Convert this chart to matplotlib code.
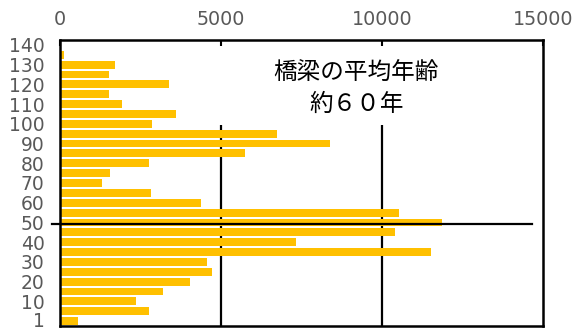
import matplotlib
matplotlib.use('Agg')
import matplotlib.pyplot as plt
import matplotlib.transforms as mtransforms
import numpy as np

plt.rcParams['font.family'] = ['Noto Sans CJK JP', 'DejaVu Sans']

# 建設後年数(5年刻み)と橋梁数
ages = [1, 5, 10, 15, 20, 25, 30, 35, 40, 45, 50, 55, 60, 65,
        70, 75, 80, 85, 90, 95, 100, 105, 110, 115, 120, 125, 130, 135]
counts = [550, 2750, 2350, 3190, 4040, 4730, 4560, 11510, 7320, 10400, 11850, 10530, 4370, 2830,
          1290, 1550, 2750, 5750, 8390, 6750, 2850, 3590, 1920, 1530, 3380, 1530, 1700, 130]
tick_labels = ['1', '10', '20', '30', '40', '50', '60', '70',
               '80', '90', '100', '110', '120', '130', '140']
x_ticks = [0, 5000, 10000, 15000]

fig = plt.figure(figsize=(5.74, 3.31), dpi=100)
ax = fig.add_axes([60/574, 5/331, 483/574, 286/331])

y = np.arange(len(ages))
ax.barh(y, counts, height=0.8, color='#FFC000', zorder=2)

# 目盛り(上側)
ax.set_xlim(0, 15000)
ax.set_ylim(-0.5, 28.5)
ax.xaxis.tick_top()
ax.set_xticks(x_ticks)
ax.set_xticklabels([str(v) for v in x_ticks], family='DejaVu Sans')
ax.tick_params(axis='x', direction='in', length=4, width=1.5, pad=8,
               labelsize=13.8, labelcolor='#595959', top=True, bottom=False)
ax.set_yticks(np.arange(0, 29, 2))
ax.set_yticklabels(tick_labels, family='DejaVu Sans')
ax.tick_params(axis='y', length=0, pad=11, labelsize=13.5, labelcolor='#595959')

# 一番下のラベルが切れないように少し上げる
lab = ax.get_yticklabels()[0]
lab.set_transform(lab.get_transform() + mtransforms.ScaledTranslation(0, 1/72, fig.dpi_scale_trans))

for s in ax.spines.values():
    s.set_linewidth(1.8)
    s.set_color('black')

# 補助線
ax.vlines([5000, 10000], -0.5, 19.9, color='black', linewidth=1.6, zorder=1)
ax.plot([-250, 14650], [9.8, 9.8], color='black', linewidth=1.6, zorder=3, clip_on=False)

ax.text(9200, 25.1, '橋梁の平均年齢', ha='center', va='center', fontsize=17)
ax.text(9200, 22.0, '約６０年', ha='center', va='center', fontsize=17)

fig.savefig('out.png', dpi=100)
